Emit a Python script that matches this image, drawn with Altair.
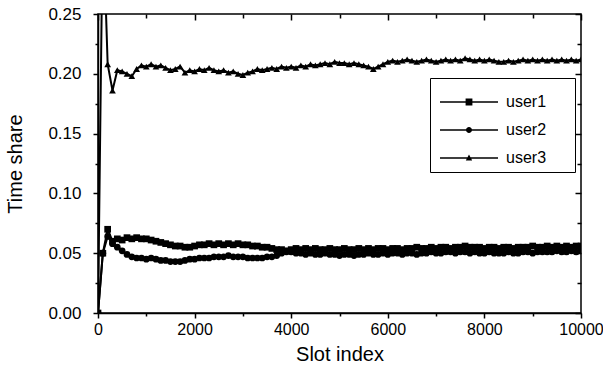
import altair as alt
import pandas as pd

# ---------------- data ----------------
slots = list(range(0, 10001, 100))
series_names = ["user1", "user2", "user3"]

user1 = [
    0.000, 0.050, 0.070, 0.060, 0.062, 0.061, 0.063, 0.062, 0.063, 0.062,
    0.062, 0.061, 0.060, 0.059, 0.058, 0.057, 0.056, 0.056, 0.055, 0.055,
    0.056, 0.057, 0.057, 0.058, 0.057, 0.058, 0.057, 0.058, 0.057, 0.058,
    0.057, 0.057, 0.056, 0.056, 0.055, 0.055, 0.054, 0.053, 0.053, 0.052,
    0.053, 0.054, 0.053, 0.054, 0.053, 0.054, 0.053, 0.053, 0.054, 0.053,
    0.053, 0.054, 0.053, 0.053, 0.054, 0.053, 0.054, 0.053, 0.054, 0.054,
    0.053, 0.054, 0.054, 0.053, 0.054, 0.054, 0.055, 0.054, 0.054, 0.055,
    0.054, 0.055, 0.055, 0.054, 0.055, 0.055, 0.056, 0.055, 0.055, 0.055,
    0.054, 0.055, 0.055, 0.054, 0.055, 0.055, 0.054, 0.055, 0.055, 0.055,
    0.056, 0.055, 0.055, 0.056, 0.055, 0.056, 0.055, 0.056, 0.055, 0.056,
    0.056,
]
user2 = [
    0.000, 0.050, 0.064, 0.058, 0.055, 0.052, 0.049, 0.047, 0.046, 0.046,
    0.045, 0.046, 0.045, 0.044, 0.044, 0.043, 0.043, 0.043, 0.044, 0.045,
    0.045, 0.046, 0.046, 0.046, 0.047, 0.047, 0.047, 0.048, 0.047, 0.047,
    0.047, 0.046, 0.046, 0.046, 0.046, 0.047, 0.047, 0.048, 0.050, 0.051,
    0.051, 0.050, 0.050, 0.049, 0.050, 0.049, 0.049, 0.050, 0.049, 0.049,
    0.048, 0.049, 0.049, 0.048, 0.049, 0.049, 0.050, 0.049, 0.049, 0.050,
    0.049, 0.050, 0.050, 0.049, 0.050, 0.050, 0.049, 0.050, 0.050, 0.051,
    0.050, 0.050, 0.051, 0.051, 0.050, 0.051, 0.051, 0.050, 0.051, 0.050,
    0.050, 0.051, 0.050, 0.050, 0.050, 0.051, 0.050, 0.050, 0.051, 0.051,
    0.050, 0.051, 0.051, 0.051, 0.051, 0.052, 0.051, 0.051, 0.052, 0.051,
    0.052,
]
user3 = [
    0.000, 0.333, 0.208, 0.186, 0.203, 0.202, 0.200, 0.198, 0.204, 0.207,
    0.206, 0.208, 0.206, 0.207, 0.205, 0.203, 0.204, 0.206, 0.201, 0.203,
    0.202, 0.204, 0.203, 0.205, 0.203, 0.202, 0.203, 0.201, 0.202, 0.200,
    0.199, 0.201, 0.202, 0.204, 0.203, 0.204, 0.205, 0.204, 0.206, 0.205,
    0.206, 0.205, 0.207, 0.206, 0.208, 0.207, 0.208, 0.209, 0.208, 0.210,
    0.209, 0.209, 0.208, 0.209, 0.208, 0.207, 0.206, 0.204, 0.206, 0.208,
    0.210, 0.211, 0.210, 0.211, 0.212, 0.211, 0.210, 0.211, 0.212, 0.211,
    0.210, 0.211, 0.212, 0.211, 0.212, 0.211, 0.213, 0.212, 0.211, 0.212,
    0.211, 0.212, 0.211, 0.210, 0.210, 0.211, 0.210, 0.211, 0.212, 0.211,
    0.212, 0.211, 0.212, 0.211, 0.212, 0.211, 0.212, 0.211, 0.212, 0.211,
    0.212,
]

x_major = [0, 2000, 4000, 6000, 8000, 10000]
x_minor = [1000, 3000, 5000, 7000, 9000]
y_major = [0.0, 0.05, 0.10, 0.15, 0.20, 0.25]
y_minor = [0.025, 0.075, 0.125, 0.175, 0.225]

x_title = "Slot index"
y_title = "Time share"

# ---------------- table ----------------
rows = []
for name, vals in zip(series_names, [user1, user2, user3]):
    for s, v in zip(slots, vals):
        rows.append({"slot": s, "share": v, "series": name})
df = pd.DataFrame(rows)

FONT = "Liberation Sans"
xs = alt.Scale(domain=[0, 10000], nice=False, zero=False)
ys = alt.Scale(domain=[0, 0.25], nice=False)

base = alt.Chart(df)

x_cond_size = {"condition": {"test": "datum.value % 2000 === 0", "value": 5}, "value": 3}
y_cond_size = {"condition": {"test": "round(datum.value * 1000) % 50 === 0", "value": 5}, "value": 3}

lines = base.mark_line(color="black", strokeWidth=2, clip=True).encode(
    x=alt.X("slot:Q", scale=xs, axis=alt.Axis(
        values=sorted(x_major + x_minor), tickSize=x_cond_size,
        labelExpr="datum.value % 2000 === 0 ? datum.label : ''",
        format="d", labelFlush=False, labelOverlap=False, labelPadding=3,
        labelFontSize=16, title=x_title, titleFontSize=20, titlePadding=7,
        grid=False)),
    y=alt.Y("share:Q", scale=ys, axis=alt.Axis(
        values=sorted(y_major + y_minor), tickSize=y_cond_size,
        labelExpr="round(datum.value * 1000) % 50 === 0 ? datum.label : ''",
        format=".2f", labelFlush=False, labelOverlap=False, labelPadding=12,
        labelFontSize=17, title=y_title, titleFontSize=20, titlePadding=22,
        grid=False)),
    detail="series:N",
)

points = base.mark_point(filled=True, color="black", opacity=1, size=45, clip=True).encode(
    x=alt.X("slot:Q", scale=xs, axis=None),
    y=alt.Y("share:Q", scale=ys, axis=None),
    shape=alt.Shape("series:N", scale=alt.Scale(domain=series_names,
                                                range=["square", "circle", "triangle-up"]),
                    legend=None),
)

# legend glyphs: a thin filled bar (the line) plus the marker, all filled
legend_paths = [
    "M-7.25,-0.2H7.25V0.2H-7.25Z M-0.85,-0.85H0.85V0.85H-0.85Z M25,0Z",
    "M-7.25,-0.2H7.25V0.2H-7.25Z M-0.75,0A0.75,0.75,0,1,1,0.75,0A0.75,0.75,0,1,1,-0.75,0Z M25,0Z",
    "M-7.25,-0.2H7.25V0.2H-7.25Z M0,-0.85L0.8,0.6L-0.8,0.6Z M25,0Z",
]

legend_layer = base.mark_point(filled=True, color="black", opacity=0, size=64).encode(
    x=alt.X("slot:Q", scale=xs, axis=None),
    y=alt.Y("share:Q", scale=ys, axis=None),
    shape=alt.Shape("series:N", scale=alt.Scale(domain=series_names, range=legend_paths),
                    legend=alt.Legend(
                        title=" ", titleFontSize=5, titlePadding=5,
                        orient="none", legendX=332, legendY=64,
                        padding=6, strokeColor="black", fillColor="white",
                        symbolSize=64, symbolOpacity=1, symbolFillColor="black",
                        symbolStrokeWidth=0,
                        symbolOffset=25, labelOffset=29, rowPadding=12,
                        labelFontSize=16, labelFont=FONT, labelColor="black")),
)

def frame_axis_layer(xvals, yvals, size):
    return base.mark_point(opacity=0).encode(
        x=alt.X("slot:Q", scale=xs, axis=alt.Axis(
            orient="top", values=xvals, tickSize=size, offset=-size,
            labels=False, domain=False, title=None, grid=False)),
        y=alt.Y("share:Q", scale=ys, axis=alt.Axis(
            orient="right", values=yvals, tickSize=size, offset=-size,
            labels=False, domain=False, title=None, grid=False)),
    )

frame_major = frame_axis_layer(x_major, y_major, 6)
frame_minor = frame_axis_layer(x_minor, y_minor, 4)

chart = alt.layer(lines, points, legend_layer, frame_major, frame_minor).resolve_scale(
    shape="independent"
).resolve_axis(
    x="independent", y="independent"
).properties(
    width=483, height=299, autosize="none",
    padding={"left": 98, "top": 14, "right": 22, "bottom": 59},
    background="white",
).configure_view(
    stroke="black", strokeWidth=1.5
).configure_axis(
    domainColor="black", domainWidth=1.5, tickColor="black", tickWidth=1.5,
    labelColor="black", titleColor="black", labelFont=FONT, titleFont=FONT,
    titleFontWeight="normal",
)

chart.save("out.html", embed_options={"renderer": "svg", "actions": False})
